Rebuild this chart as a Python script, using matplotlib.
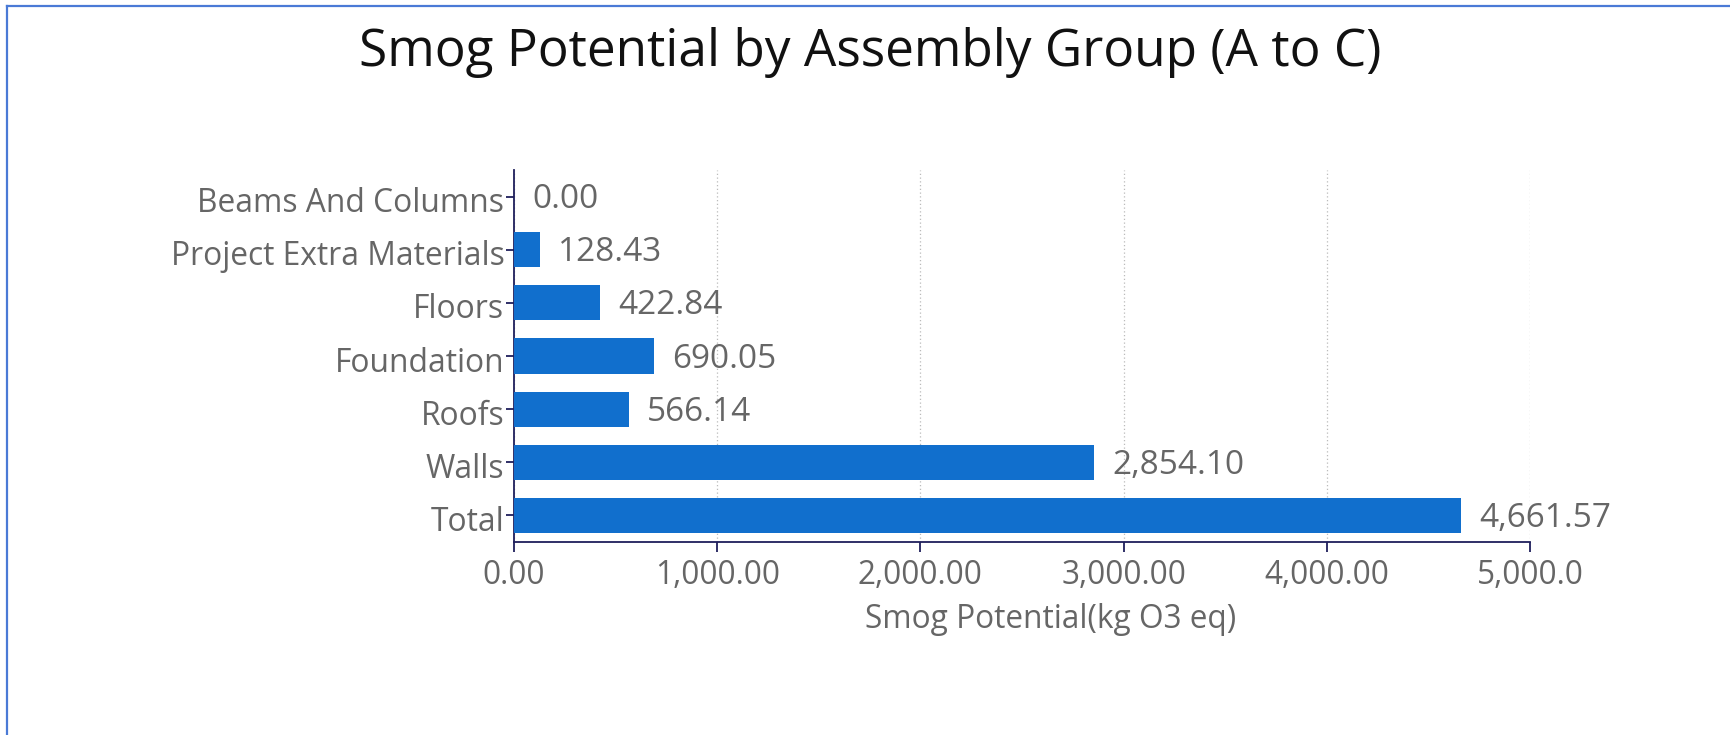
import matplotlib
matplotlib.use("Agg")
import matplotlib.pyplot as plt
from matplotlib.lines import Line2D
from matplotlib.transforms import ScaledTranslation
from matplotlib.ticker import FixedLocator, FixedFormatter

categories = ["Beams And Columns", "Project Extra Materials", "Floors", "Foundation",
              "Roofs", "Walls", "Total"]
values = [0.00, 128.43, 422.84, 690.05, 566.14, 2854.10, 4661.57]
value_labels = ["0.00", "128.43", "422.84", "690.05", "566.14", "2,854.10", "4,661.57"]
x_ticks = [0, 1000, 2000, 3000, 4000, 5000]
x_tick_labels = ["0.00", "1,000.00", "2,000.00", "3,000.00", "4,000.00", "5,000.0"]

FONT = ["Open Sans", "DejaVu Sans"]
plt.rcParams["font.family"] = FONT

W, H = 1730, 735
fig = plt.figure(figsize=(W / 100, H / 100), dpi=100)
fig.patch.set_facecolor("white")

ax_l, ax_r, ax_t, ax_b = 514, 1530, 170, 542
ax = fig.add_axes([ax_l / W, 1 - ax_b / H, (ax_r - ax_l) / W, (ax_b - ax_t) / H])

bar_color = "#116fcd"
text_gray = "#666666"
axis_color = "#1f1f5c"

n = len(categories)
ypos = list(range(n))
ax.barh(ypos, values, height=0.66, color=bar_color, zorder=3)
ax.set_ylim(n - 0.5, -0.5)
ax.set_xlim(0, 5000)

ax.set_yticks(ypos)
ax.set_yticklabels(categories)
ax.xaxis.set_major_locator(FixedLocator(x_ticks))
ax.xaxis.set_major_formatter(FixedFormatter(x_tick_labels))

ax.tick_params(axis="y", colors=axis_color, labelcolor=text_gray, labelsize=22.9,
               length=6, width=1.3, pad=1)
ax.tick_params(axis="x", colors=axis_color, labelcolor=text_gray, labelsize=22.7,
               length=7, width=1.3, pad=5)

shift = ScaledTranslation(0, -3 / 100, fig.dpi_scale_trans)
for lbl in ax.get_yticklabels():
    lbl.set_transform(lbl.get_transform() + shift)

for s in ["top", "right"]:
    ax.spines[s].set_visible(False)
for s in ["left", "bottom"]:
    ax.spines[s].set_color(axis_color)
    ax.spines[s].set_linewidth(1.3)

ax.grid(axis="x", linestyle=(0, (1, 2)), color="#bbbbbb", linewidth=0.9, zorder=0)
ax.set_axisbelow(True)

for y, v, lab in zip(ypos, values, value_labels):
    ax.annotate(lab, xy=(v, y), xytext=(13, -2.2), textcoords="offset points",
                ha="left", va="center", fontsize=24, color=text_gray)

ax.set_xlabel("Smog Potential(kg O3 eq)", fontsize=22.8, color=text_gray)
ax.xaxis.set_label_coords((1051 - ax_l) / (ax_r - ax_l), -(620 - ax_b) / (ax_b - ax_t))
ax.xaxis.label.set_va("center")

fig.text(870 / W, 1 - 52 / H, "Smog Potential by Assembly Group (A to C)",
         ha="center", va="center", fontsize=37, color="#111111")

border_color = "#4a7ad6"
fig.add_artist(Line2D([7.5 / W, 7.5 / W], [0, 1 - 5.5 / H], color=border_color,
                      linewidth=1.6, transform=fig.transFigure))
fig.add_artist(Line2D([7.5 / W, 1], [1 - 5.5 / H, 1 - 5.5 / H], color=border_color,
                      linewidth=1.6, transform=fig.transFigure))

fig.savefig("out.png", dpi=100, facecolor="white")
